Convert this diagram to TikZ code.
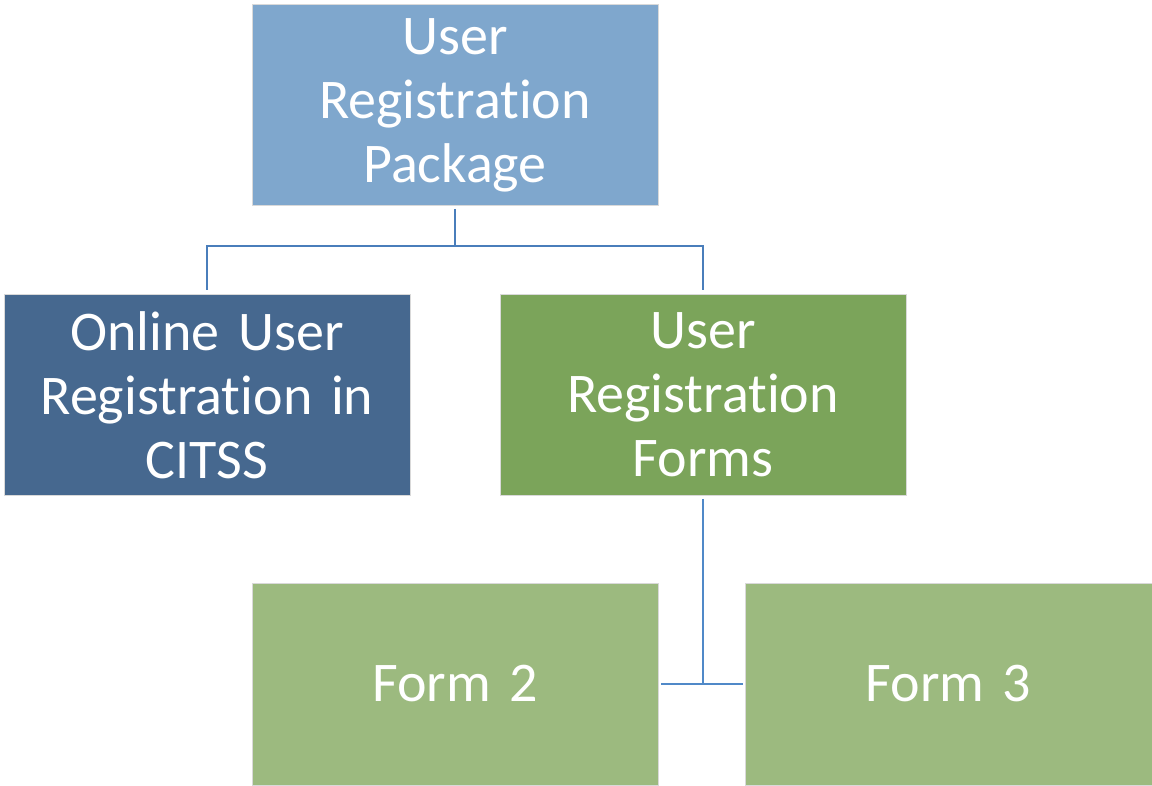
\documentclass[tikz,border=0pt]{standalone}
\usepackage{fontspec}
\setmainfont[Ligatures=NoCommon]{Carlito}
\newcommand\boxfont{\fontsize{56}{64}\selectfont\fontdimen2\font=9.5pt\relax}
\definecolor{topblue}{HTML}{7FA7CD}
\definecolor{darkblue}{HTML}{46688F}
\definecolor{midgreen}{HTML}{7BA45A}
\definecolor{lightgreen}{HTML}{9CBA7F}
\definecolor{linkblue}{HTML}{4A7EBB}
\definecolor{linkblue2}{HTML}{5089C8}
\begin{document}
\begin{tikzpicture}[x=1pt,y=-1pt,
  box/.style={rectangle, draw=white!85!black, line width=0.8pt,
    minimum width=406pt, minimum height=201pt, inner sep=0pt,
    text=white, align=center, text width=396pt, font=\boxfont},
  link/.style={draw=linkblue, line width=2.6pt}]
\useasboundingbox (0,0) rectangle (1152,785);
\fill[white] (0,0) rectangle (1152,785);
\node[box, fill=topblue] (top) at (455,105) {User\\Registration\\Package};
\node[box, fill=darkblue] (online) at (207,395) {Online User\\Registration in\\CITSS};
\node[box, fill=midgreen] (forms) at (703,395) {User\\Registration\\Forms};
\node[box, fill=lightgreen, minimum height=202pt] (form2) at (455,684) {Form 2};
\node[box, fill=lightgreen, minimum height=202pt, minimum width=407pt] (form3) at (948.5,684) {Form 3};
% tree links
\coordinate (j1) at (455,246);
\coordinate (j2) at (703,684);
\draw[link] ([yshift=-3pt]top.south) -- (j1) -| ([yshift=4pt]online.north);
\draw[link] (j1) -| ([yshift=4pt]forms.north);
\draw[link, draw=linkblue2] ([yshift=-3pt]forms.south) -- (j2);
\draw[link, draw=linkblue2] ([xshift=3pt]form2.east) -- ([xshift=-2pt]form3.west);
\end{tikzpicture}
\end{document}
